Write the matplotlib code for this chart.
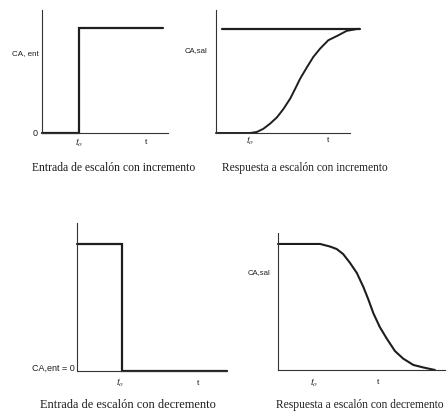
import matplotlib
matplotlib.use("Agg")
import matplotlib.pyplot as plt

plt.rcParams["mathtext.fontset"] = "stix"

# step input (increase)
step_up_t = [0.0, 1.0, 1.0, 3.27]
step_up_y = [0.0, 0.0, 1.0, 1.0]

# response to increase
resp_up_t = [0.0, 1.0, 1.20, 1.39, 1.59, 1.79, 1.98, 2.18, 2.32, 2.47, 2.67, 2.86, 3.06,
             3.30, 3.55, 3.84, 4.19]
resp_up_y = [0.0, 0.0, 0.01, 0.04, 0.09, 0.15, 0.23, 0.33, 0.42, 0.52, 0.63, 0.73, 0.81,
             0.89, 0.93, 0.98, 1.0]
final_up_t = [0.18, 4.24]
final_up_y = [1.0, 1.0]

# step input (decrease)
step_dn_t = [0.0, 1.0, 1.0, 3.33]
step_dn_y = [1.0, 1.0, 0.0, 0.0]

# response to decrease
resp_dn_t = [0.0, 1.17, 1.44, 1.63, 1.81, 2.0, 2.19, 2.37, 2.51, 2.65, 2.83, 3.02, 3.25,
             3.48, 3.76, 4.04, 4.36]
resp_dn_y = [1.0, 1.0, 0.98, 0.96, 0.92, 0.85, 0.77, 0.66, 0.56, 0.45, 0.34, 0.25, 0.15,
             0.09, 0.04, 0.02, 0.0]

captions = ["Entrada de escalón con incremento", "Respuesta a escalón con incremento",
            "Entrada de escalón con decremento", "Respuesta a escalón con decremento"]

W, H = 447, 413
fig = plt.figure(figsize=(W / 100, H / 100), dpi=100)
fig.patch.set_facecolor("white")

ink = "#1e1e1e"
sans = "Liberation Sans"
serif = "Liberation Serif"


def make_axes(L, R, T, B, xmax, ymax):
    ax = fig.add_axes([L / W, 1 - B / H, (R - L) / W, (B - T) / H])
    ax.set_xlim(0, xmax)
    ax.set_ylim(0, ymax)
    for s in ["top", "right"]:
        ax.spines[s].set_visible(False)
    for s in ["left", "bottom"]:
        ax.spines[s].set_linewidth(0.8)
        ax.spines[s].set_color("#333333")
    ax.set_xticks([])
    ax.set_yticks([])
    ax.patch.set_alpha(0)
    return ax


def t_labels(ax, t0x, tx, y):
    ax.text(t0x, y, r"$t_o$", ha="center", va="center", fontsize=7.5, color=ink)
    ax.text(tx, y, "t", ha="center", va="center", fontsize=6, family=sans, color=ink)


curve_kw = dict(color=ink, clip_on=False, solid_joinstyle="round", solid_capstyle="round")

# top-left
ax1 = make_axes(42, 168, 10, 133, 3.41, 1.17)
ax1.plot(step_up_t, step_up_y, lw=1.6, **{**curve_kw, "solid_joinstyle": "miter"})
ax1.text(-0.08, 0.76, "CA, ent", ha="right", va="center", fontsize=5.8, family=sans, color=ink)
ax1.text(-0.12, 0.0, "0", ha="right", va="center", fontsize=6.5, family=sans, color=ink)
t_labels(ax1, 1.0, 2.81, -0.09)

# top-right
ax2 = make_axes(216, 361, 10, 133, 4.26, 1.18)
ax2.spines["bottom"].set_bounds(0, 3.94)
ax2.plot(final_up_t, final_up_y, lw=1.6, **curve_kw)
ax2.plot(resp_up_t, resp_up_y, lw=1.4, **curve_kw)
ax2.text(-0.24, 0.79, "CA,sal", ha="right", va="center", fontsize=5.6, family=sans, color=ink)
t_labels(ax2, 1.0, 3.3, -0.07)

# bottom-left
ax3 = make_axes(77, 227, 223, 371, 3.33, 1.165)
ax3.plot(step_dn_t, step_dn_y, lw=1.6, **{**curve_kw, "solid_joinstyle": "miter"})
ax3.text(-0.05, 0.02, "CA,ent = 0", ha="right", va="center", fontsize=6.5, family=sans, color=ink)
t_labels(ax3, 0.96, 2.69, -0.095)

# bottom-right
ax4 = make_axes(278, 445, 233, 370, 4.64, 1.087)
ax4.plot(resp_dn_t, resp_dn_y, lw=1.5, **curve_kw)
ax4.text(-0.22, 0.77, "CA,sal", ha="right", va="center", fontsize=5.6, family=sans, color=ink)
t_labels(ax4, 1.0, 2.78, -0.10)

cap_pos = [(114, 168), (305, 168), (128, 405), (360, 405)]
cap_size = [8.4, 8.3, 8.9, 8.3]
for (cx, cy), fs, txt in zip(cap_pos, cap_size, captions):
    fig.text(cx / W, 1 - cy / H, txt, ha="center", va="center", fontsize=fs,
             family=serif, color=ink)

fig.savefig("out.png", dpi=100, facecolor="white")
